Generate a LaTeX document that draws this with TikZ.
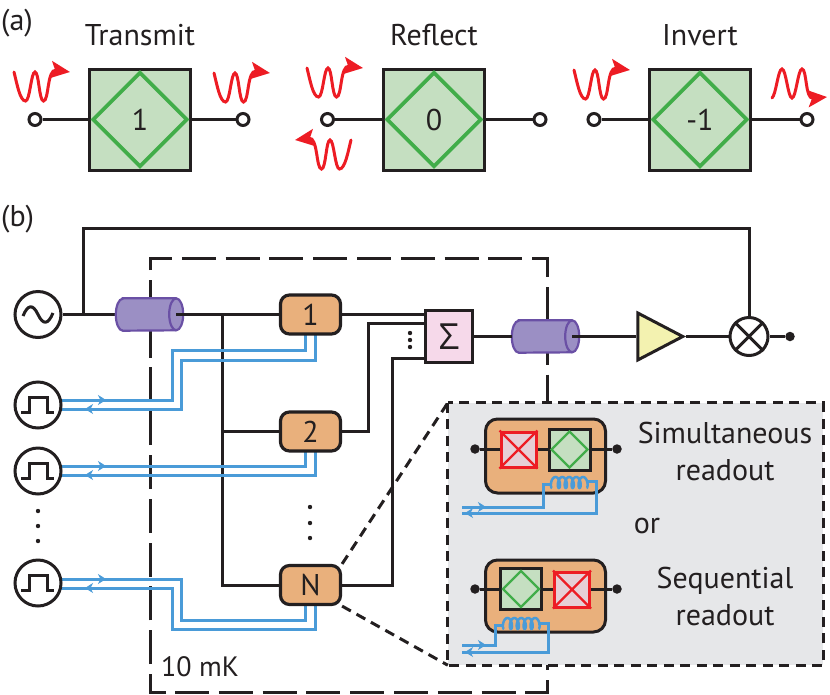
\documentclass[tikz,border=0pt]{standalone}
\usepackage{fontspec}
\setmainfont{PT Sans}
\newfontfamily\greekface{Open Sans}
\usetikzlibrary{arrows.meta,shapes.geometric}
\definecolor{ink}{HTML}{231F20}
\definecolor{qgreen}{HTML}{C5DFC1}
\definecolor{qgreenline}{HTML}{41AD49}
\definecolor{qorange}{HTML}{E9B07C}
\definecolor{qred}{HTML}{ED1C24}
\definecolor{qpink}{HTML}{E6CFD6}
\definecolor{sumpink}{HTML}{F6D9EA}
\definecolor{ampyellow}{HTML}{F3F2B0}
\definecolor{panelgray}{HTML}{E6E7E9}
\definecolor{wireblue}{HTML}{4A9BD8}
\definecolor{cablefill}{HTML}{9B8FC4}
\definecolor{cableline}{HTML}{6A50A5}
\tikzset{
  wire/.style={draw=ink,line width=3pt},
  bluewire/.style={draw=wireblue,line width=3pt},
  bluefwd/.style={draw=wireblue,line width=0.8pt,-{Stealth[length=8pt,width=10pt,inset=2.5pt,fill=wireblue]}},
  label/.style={inner sep=0pt,text=ink,font=\fontsize{30}{30}\selectfont,anchor=base},
  terminal/.style={circle,draw=ink,fill=white,line width=3pt,minimum size=12pt,inner sep=0pt},
  blackdot/.style={circle,fill=ink,minimum size=9.5pt,inner sep=0pt},
  tinydot/.style={circle,fill=ink,minimum size=4.4pt,inner sep=0pt},
  gatebox/.style={rectangle,draw=ink,fill=qgreen,line width=3pt,minimum size=101pt,inner sep=0pt},
  gatediamond/.style={diamond,aspect=1,draw=qgreenline,line width=3.8pt,minimum size=95pt,inner sep=0pt},
  qubit/.style={rectangle,rounded corners=9pt,draw=ink,fill=qorange,line width=3.2pt,minimum width=60pt,minimum height=39pt,inner sep=0pt,text=ink,font=\fontsize{30}{30}\selectfont},
  source/.style={circle,draw=ink,fill=white,line width=3pt,minimum size=46pt,inner sep=0pt},
  redwave/.style={draw=qred,line width=3pt,line cap=round},
  dashedframe/.style={draw=ink,line width=3pt,dash pattern=on 34pt off 9.8pt},
  insetline/.style={draw=ink,line width=3pt,dash pattern=on 10pt off 6.5pt},
  readoutbox/.style={rectangle,rounded corners=12pt,draw=ink,fill=qorange,line width=3pt,minimum width=120pt,inner sep=0pt},
  wave/.pic={
    \draw[redwave,-{Stealth[length=19pt,width=17pt,inset=4pt,fill=qred]}]
      (0,0) .. controls (3,12) and (6,29) .. (11.5,29)
      .. controls (16,29) and (17,0) .. (21,0)
      .. controls (25,0) and (25,29) .. (29.5,29)
      .. controls (35,29) and (33,-3) .. (56,0);
  },
  flippedwave/.pic={
    \draw[redwave,-{Stealth[length=19pt,width=17pt,inset=4pt,fill=qred]}]
      (0,29) .. controls (4,26) and (6,0) .. (10,0)
      .. controls (14,0) and (16,29) .. (20,29)
      .. controls (24,29) and (26,0) .. (30,0)
      .. controls (35,0) and (33,30) .. (55,28);
  },
  coil/.pic={
    \draw[draw=wireblue,line width=2.5pt] plot[smooth,domain=0:1800,samples=121]
      ({6.9*\x/360-2.6*sin(\x)},{-5.5*(1-cos(\x))});
  }
}
% A transmission-line section, drawn as a cylinder with its open end to the right
\newcommand{\cablesection}[3]{%
  \node[inner sep=0pt,minimum width=67pt,minimum height=32pt] (#1) at (#2,#3) {};
  \path[fill=cablefill,draw=cableline,line width=2.2pt]
    ([xshift=7pt]#1.north west) -- ([xshift=-7pt]#1.north east)
    arc[start angle=90,end angle=-90,x radius=7pt,y radius=16pt]
    -- ([xshift=7pt]#1.south west)
    arc[start angle=270,end angle=90,x radius=7pt,y radius=16pt] -- cycle;
  \draw[cableline,line width=2.2pt] ([xshift=-7pt]#1.north east)
    arc[start angle=90,end angle=270,x radius=7pt,y radius=16pt];
  \coordinate (#1in) at (#1.west);
  \coordinate (#1out) at ([xshift=-7pt]#1.east);
}
% One element of panel (a): green box, diamond, and its two terminals
\newcommand{\gatecell}[6]{%
  \node[gatebox] (#1) at (#2,119.5) {};
  \node[gatediamond] at (#1.center) {};
  \node[label] at (#2,130) {#3};
  \node[terminal] (#1l) at (#4,119.5) {};
  \node[terminal] (#1r) at (#5,119.5) {};
  \draw[wire] (#1l) -- (#1);
  \draw[wire] (#1) -- (#1r);
  \node[label] at (#2,45) {#6};
}
% Pulse generator symbol
\newcommand{\pulsesource}[3]{%
  \node[source] (#1) at (#2,#3) {};
  \draw[ink,line width=3pt,line join=miter] ([shift={(-17,7)}]#1.center) -- ++(8,0) -- ++(0,-15) -- ++(18,0) -- ++(0,15) -- ++(7,0);
}
\begin{document}
\begin{tikzpicture}[x=1pt,y=-1pt]
\useasboundingbox (0,0) rectangle (830,694);

% ---- panel (a) ----
\node[label,anchor=base west] at (1,30) {(a)};
\node[label,anchor=base west] at (1,226) {(b)};
\gatecell{ga}{140}{1}{35}{243}{Transmit}
\gatecell{gb}{434}{0}{327.5}{540}{Reflect}
\gatecell{gc}{700}{-1}{594}{807}{Invert}
\pic at (14,72) {wave};
\pic at (214,73) {wave};
\pic at (307,68) {wave};
\pic[xscale=-1] at (351,140) {wave};
\pic at (574,70) {wave};
\pic at (772,69) {flippedwave};

% ---- cryostat outline ----
\draw[dashedframe] (166,692) -- (150,692) -- (150,258) -- (547,258) -- (547,403);
\draw[dashedframe] (175,692) -- (547,692) -- (547,665);
\node[label,anchor=base west,font=\fontsize{28}{28}\selectfont] at (161,676) {10 mK};

% ---- control lines ----
\coordinate (tap) at (83,314.5);
\coordinate (split) at (222,314.5);
\coordinate (split2) at (222,431.5);
\draw[wire,line join=miter] (tap) |- (749,228) -- (749,318);
\draw[wire,line join=miter] (split) -- (222,585) -- (280,585);
\draw[wire] (split2) -- (280,431.5);
\draw[bluewire,line join=miter] (305,335) -- (305,350) -| (172,400) -- (60,400);
\draw[bluewire,line join=miter] (315,335) -- (315,360) -| (181,409) -- (60,409);
\draw[bluewire] (305,452) -- (305,466) -- (60,466);
\draw[bluewire] (315,452) -- (315,475) -- (60,475);
\draw[bluewire,line join=miter] (305,606) -- (305,620) -- (181,620) -- (181,579) -- (60,579);
\draw[bluewire,line join=miter] (315,606) -- (315,629) -- (172,629) -- (172,588) -- (60,588);
\foreach \yf/\yb in {400/409,466/475,579/588}{
  \draw[bluefwd] (95,\yf) -- (106,\yf);
  \draw[bluefwd] (96,\yb) -- (85,\yb);
}

% ---- components ----
\node[source] (osc) at (38,314.5) {};
\draw[ink,line width=3pt] (23,316) .. controls (28,304) and (33,304) .. (38,314.5) .. controls (43,325) and (48,325) .. (53,313);
\pulsesource{p1}{38}{405}
\pulsesource{p2}{38}{471}
\pulsesource{p3}{38}{583}
\node[qubit] (q1) at (310.5,314.5) {1};
\node[qubit] (q2) at (310.5,431.5) {2};
\node[qubit] (qn) at (310.5,585) {N};
\node[rectangle,draw=ink,fill=sumpink,line width=3pt,minimum width=47pt,minimum height=52pt,inner sep=0pt,text=ink,font=\greekface\fontsize{36}{36}\selectfont] (sum) at (449,336.5) {Σ};
\node[isosceles triangle,isosceles triangle apex angle=55,isosceles triangle stretches,draw=ink,fill=ampyellow,line width=3pt,minimum width=47pt,minimum height=45pt,inner sep=0pt] (amp) at (652,336.5) {};
\node[circle,draw=ink,fill=white,line width=3pt,minimum size=38pt,inner sep=0pt] (mix) at (749,336.5) {};
\draw[ink,line width=3pt] (mix.north east) -- (mix.south west) (mix.north west) -- (mix.south east);
\node[blackdot] (outdot) at (790,336.5) {};

% ---- cables and signal path ----
\draw[wire] (osc) -- (116,314.5);
\cablesection{c1}{149.5}{314.5}
\cablesection{c2}{545.5}{336.5}
\draw[wire] (c1out) -- (q1.west);
\draw[wire] (sum) -- (c2in);
\draw[wire] (c2out) -- (amp.west);
\draw[wire] (amp.east) -- (mix);
\draw[wire] (mix) -- (outdot);
\draw[wire] (q1.east) -- (sum.west |- q1.east);
\draw[wire,line join=miter] (q2.east) -- (368,431.5) -- (368,323) -- (sum.west |- 0,323);
\draw[wire,line join=miter] (qn.east) -- (392,585) -- (392,358) -- (sum.west |- 0,358);
\node[tinydot] at (410,333) {};
\node[tinydot] at (410,340) {};
\node[tinydot] at (410,347) {};
\node[tinydot] at (310,507) {};
\node[tinydot] at (310,523) {};
\node[tinydot] at (310,538) {};
\node[tinydot] at (38,511) {};
\node[tinydot] at (38,526) {};
\node[tinydot] at (38,541) {};

% ---- magnified view ----
\node[rectangle,fill=panelgray,draw=none,minimum width=375pt,minimum height=262pt,inner sep=0pt] (inset) at (635.5,534) {};
\draw[insetline] (inset.north west) rectangle (inset.south east);
\draw[insetline] (qn.north east) -- (inset.north west);
\draw[insetline] (qn.south east) -- (inset.south west);

\node[readoutbox,minimum height=74pt] (r1) at (545.5,456) {};
\node[blackdot] (r1l) at (475,449) {};
\node[blackdot] (r1r) at (617,449) {};
\draw[wire] (r1l) -- (r1r);
\node[rectangle,draw=qred,fill=qpink,line width=3pt,minimum size=35pt,inner sep=0pt] (x1) at (518.5,449.5) {};
\draw[qred,line width=2.2pt] (x1.north west) -- (x1.south east) (x1.north east) -- (x1.south west);
\node[rectangle,draw=ink,fill=qgreen,line width=3pt,minimum size=41pt,inner sep=0pt] (d1) at (569.5,449.5) {};
\node[diamond,aspect=1,draw=qgreenline,line width=2.4pt,minimum size=37pt,inner sep=0pt] at (d1.center) {};
\draw[bluewire,line join=miter] (462,507) -- (543,507) -- (543,484) -- (552,484);
\pic at (552,488) {coil};
\draw[bluewire,line join=miter] (586,481) -- (596,481) -- (596,513) -- (462,513);
\draw[bluefwd] (474,507) -- (486,507);
\draw[bluefwd] (477,513) -- (465,513);

\node[readoutbox,minimum height=72pt] (r2) at (545.5,596) {};
\node[blackdot] (r2l) at (475,589) {};
\node[blackdot] (r2r) at (617,589) {};
\draw[wire] (r2l) -- (r2r);
\node[rectangle,draw=ink,fill=qgreen,line width=3pt,minimum size=41pt,inner sep=0pt] (d2) at (521,589) {};
\node[diamond,aspect=1,draw=qgreenline,line width=2.4pt,minimum size=37pt,inner sep=0pt] at (d2.center) {};
\node[rectangle,draw=qred,fill=qpink,line width=3pt,minimum size=35pt,inner sep=0pt] (x2) at (572,589.5) {};
\draw[qred,line width=2.2pt] (x2.north west) -- (x2.south east) (x2.north east) -- (x2.south west);
\draw[bluewire,line join=miter] (462,645) -- (495,645) -- (495,625) -- (504,625);
\pic at (504,629) {coil};
\draw[bluewire,line join=miter] (538,623) -- (548,623) -- (548,652) -- (462,652);
\draw[bluefwd] (474,645) -- (486,645);
\draw[bluefwd] (477,652) -- (465,652);

\node[label] at (725,443) {Simultaneous};
\node[label] at (725,480) {readout};
\node[label] at (647,533) {or};
\node[label] at (725,588) {Sequential};
\node[label] at (725,625) {readout};
\end{tikzpicture}
\end{document}
